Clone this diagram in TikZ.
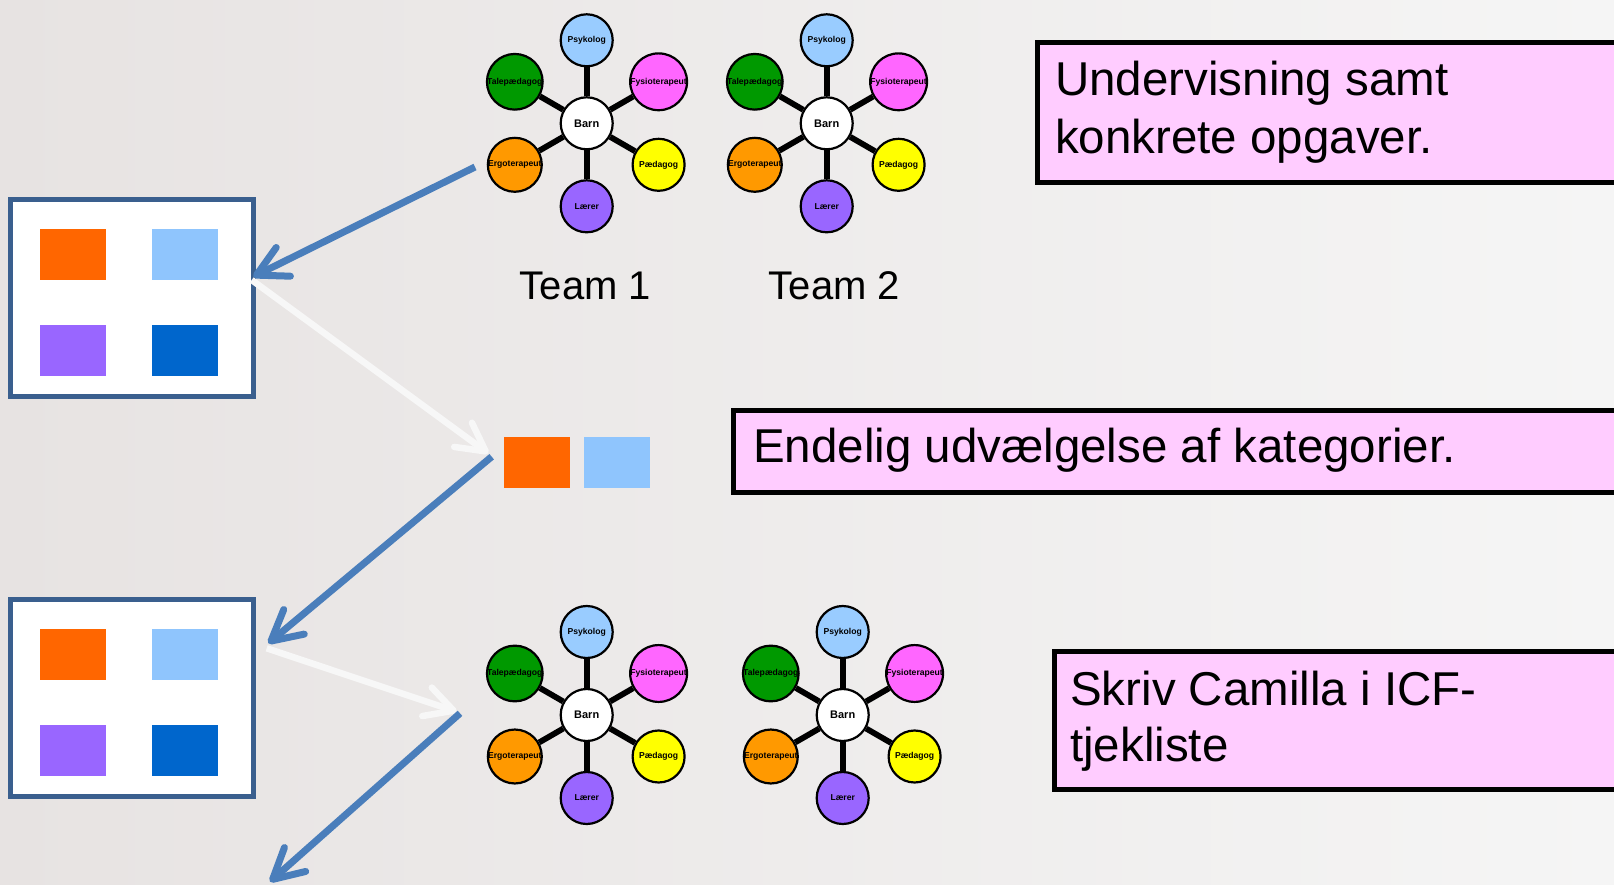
\documentclass[tikz,border=0pt]{standalone}
\usepackage{fontspec}
\setmainfont{Liberation Sans}
\usetikzlibrary{arrows.meta}
\definecolor{bgl}{HTML}{E7E3E2}
\definecolor{bgr}{HTML}{F5F5F5}
\definecolor{arrblue}{HTML}{4A7EBB}
\definecolor{arrwhite}{HTML}{F7F7F7}
\definecolor{frameblue}{HTML}{3A5F8E}
\definecolor{sqorange}{HTML}{FF6600}
\definecolor{sqlight}{HTML}{8FC5FD}
\definecolor{sqpurple}{HTML}{9966FF}
\definecolor{sqdark}{HTML}{0066CC}
\definecolor{pinkfill}{HTML}{FFCCFF}
\definecolor{cpsy}{HTML}{99CCFF}
\definecolor{ctal}{HTML}{009900}
\definecolor{cfys}{HTML}{FF66FF}
\definecolor{cerg}{HTML}{FF9900}
\definecolor{cpae}{HTML}{FFFF00}
\definecolor{clae}{HTML}{9966FF}
\tikzset{
  member/.style={circle, draw=black, line width=2.2pt, minimum size=52pt, inner sep=0pt,
    font=\fontsize{8.6}{9}\selectfont\bfseries},
  hub/.style={member, fill=white, font=\fontsize{11}{12}\selectfont\bfseries},
  spoke/.style={line width=5.8pt, draw=black},
  catframe/.style={draw=frameblue, line width=5pt, fill=white, rectangle, inner sep=0pt,
    minimum width=242.4pt, minimum height=196.7pt},
  catsq/.style={rectangle, inner sep=0pt, minimum width=66pt, minimum height=50.7pt},
  notebox/.style={draw=black, line width=5pt, fill=pinkfill, rectangle, inner sep=0pt,
    anchor=north west, minimum width=950pt},
  notetext/.style={anchor=base west, inner sep=0pt, font=\fontsize{47.5}{57}\selectfont},
  teamlabel/.style={anchor=base, inner sep=0pt, font=\fontsize{40}{48}\selectfont},
  bluearrow/.style={draw=arrblue, line width=7pt, -{Straight Barb[length=30pt,width=32pt,round]}},
  whitearrow/.style={draw=arrwhite, line width=6.5pt, -{Straight Barb[length=28pt,width=30pt,round]}},
}
\newcommand\teamwheel[3]{%
  \begin{scope}[shift={(#2,#3)}]
    \node[hub] (#1b) at (0,0) {Barn};
    \node[member, fill=cpsy] (#1psy) at (0,-83) {Psykolog};
    \node[member, fill=ctal] (#1tal) at (-71.9,-41.5) {Talepædagog};
    \node[member, fill=cfys] (#1fys) at (71.9,-41.5) {Fysioterapeut};
    \node[member, fill=cerg] (#1erg) at (-71.9,41.5) {Ergoterapeut};
    \node[member, fill=cpae] (#1pae) at (71.9,41.5) {Pædagog};
    \node[member, fill=clae] (#1lae) at (0,83) {Lærer};
    \foreach \m in {psy,tal,fys,erg,pae,lae} \draw[spoke] (#1b) -- (#1\m);
  \end{scope}}
\newcommand\catbox[3]{%
  \node[catframe] (#1) at (#2,#3) {};
  \node[catsq, fill=sqorange] (#1o) at (#2-59,#3-43.9) {};
  \node[catsq, fill=sqlight] (#1l) at (#2+53.2,#3-43.9) {};
  \node[catsq, fill=sqpurple] (#1p) at (#2-59,#3+52.3) {};
  \node[catsq, fill=sqdark] (#1d) at (#2+53.2,#3+52.3) {};}
\begin{document}
\begin{tikzpicture}[x=1pt, y=-1pt]
  \useasboundingbox (0,0) rectangle (1614,885);
  \clip (0,0) rectangle (1614,885);
  \shade[left color=bgl, right color=bgr] (0,0) rectangle (1614,885);

  % teams
  \teamwheel{ta}{586.7}{123.3}
  \teamwheel{tb}{826.7}{123.3}
  \teamwheel{tc}{586.7}{715}
  \teamwheel{td}{842.7}{715}
  \node[teamlabel] (team1) at (585.5,300) {Team 1};
  \node[teamlabel] (team2) at (834.5,300) {Team 2};

  % category boxes
  \catbox{boxa}{132}{298.2}
  \catbox{boxb}{132}{698.2}
  \node[catsq, fill=sqorange] (mido) at (537.2,462.5) {};
  \node[catsq, fill=sqlight] (midl) at (617.2,462.5) {};

  % note boxes
  \node[notebox, minimum height=140pt] (notea) at (1035.2,39.8) {};
  \node[notetext] (noteal1) at (1055,96) {Undervisning samt};
  \node[notetext] (noteal2) at (1055,154) {konkrete opgaver.};
  \node[notebox, minimum height=81.6pt] (noteb) at (730.8,408.2) {};
  \node[notetext] (notebl1) at (753,462.5) {Endelig udvælgelse af kategorier.};
  \node[notebox, minimum height=138pt] (notec) at (1052.1,648.5) {};
  \node[notetext] (notecl1) at (1070,705) {Skriv Camilla i ICF-};
  \node[notetext] (notecl2) at (1070,761.5) {tjekliste};

  % arrows
  \coordinate (a1s) at (475,167);
  \coordinate (a1e) at (253.3,276.7);
  \coordinate (w2s) at (251.7,280);
  \coordinate (w2e) at (488.3,453.3);
  \coordinate (a3s) at (491.7,456.7);
  \coordinate (a3e) at (268.3,643.3);
  \coordinate (w4s) at (266.7,648.3);
  \coordinate (w4e) at (456.7,711.7);
  \coordinate (a5s) at (460,713.3);
  \coordinate (a5e) at (270,881.7);
  \draw[bluearrow] (a1s) -- (a1e);
  \draw[whitearrow] (w2s) -- (w2e);
  \draw[bluearrow] (a3s) -- (a3e);
  \draw[whitearrow] (w4s) -- (w4e);
  \draw[bluearrow] (a5s) -- (a5e);
\end{tikzpicture}
\end{document}
